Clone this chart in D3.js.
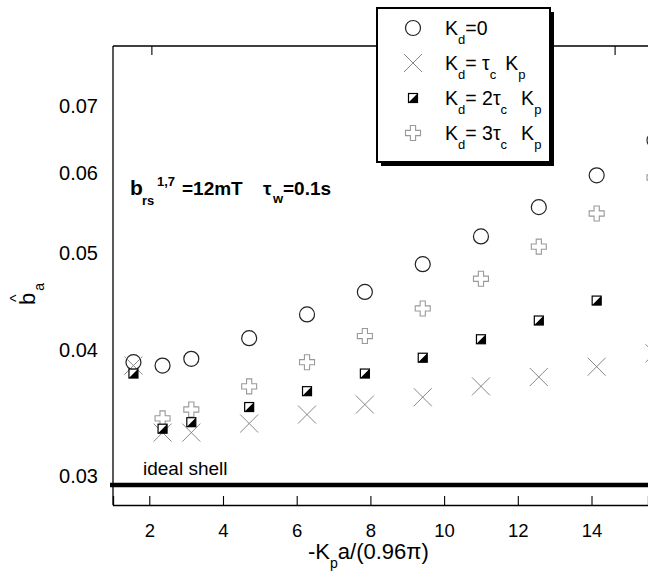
<!DOCTYPE html>
<html>
<head>
<meta charset="utf-8">
<script src="https://cdn.jsdelivr.net/npm/d3@7"></script>
<style>
  body { margin: 0; background: #fff; }
  text { font-family: "Liberation Sans", Arial, sans-serif; fill: #000; }
</style>
</head>
<body>
<div id="chart"></div>
<script>
// x = -Kp a/(0.96 pi)
const xVals = [1.57, 2.36, 3.14, 4.71, 6.28, 7.85, 9.42, 11.0, 12.57, 14.14, 15.71];
// b_a for each Kd setting
const kd0 = [0.0389, 0.0386, 0.0392, 0.0411, 0.0434, 0.0457, 0.0487, 0.0519, 0.0555, 0.0597, 0.0647];
const kd1 = [0.0386, 0.0331, 0.0331, 0.0338, 0.0345, 0.0353, 0.0359, 0.0368, 0.0376, 0.0385, 0.0397];
const kd2 = [0.0379, 0.0334, 0.0339, 0.0351, 0.0364, 0.0379, 0.0393, 0.0410, 0.0428, 0.0448, 0.0469];
const kd3 = [null, 0.0342, 0.0349, 0.0368, 0.0389, 0.0413, 0.0440, 0.0471, 0.0507, 0.0547, 0.0594];
const idealShell = 0.02936;
const xTicks = [2, 4, 6, 8, 10, 12, 14];
const xTopTicks = [2.07, 14.64];
const yTicks = [0.03, 0.04, 0.05, 0.06, 0.07];

const W = 648, H = 588;
const svg = d3.select("#chart").append("svg")
  .attr("width", W).attr("height", H);

const x = d3.scaleLinear().domain([1.015, 15.533]).range([113, 648]);
const y = d3.scaleLog().domain([0.02804, 0.0803]).range([505, 46]);

// frame
svg.append("line").attr("x1", 113).attr("x2", 113).attr("y1", 46).attr("y2", 505)
  .attr("stroke", "#000").attr("stroke-width", 1.3);
svg.append("line").attr("x1", 113).attr("x2", W).attr("y1", 46).attr("y2", 46)
  .attr("stroke", "#000").attr("stroke-width", 1.3);

// bottom axis
const xAxis = d3.axisBottom(x).tickValues(xTicks).tickSize(-9).tickFormat(d3.format("d"));
const gx = svg.append("g").attr("transform", "translate(0,505)").call(xAxis);
gx.select(".domain").attr("stroke-width", 1.3);
gx.selectAll(".tick line").attr("stroke-width", 1.1);
gx.selectAll(".tick text").attr("font-size", 18.5).attr("dy", 0).attr("y", 32)
  .style("font-family", "Liberation Sans, Arial, sans-serif");

// top ticks
svg.selectAll(".toptick").data(xTopTicks).enter().append("line")
  .attr("x1", d => x(d)).attr("x2", d => x(d)).attr("y1", 46).attr("y2", 55)
  .attr("stroke", "#000").attr("stroke-width", 1.1);

// y tick labels (no tick marks)
svg.selectAll(".ylab").data(yTicks).enter().append("text")
  .attr("x", 98).attr("y", d => y(d) + 7)
  .attr("text-anchor", "end").attr("font-size", 20)
  .text(d => d3.format(".2f")(d));

// ideal shell
svg.append("line").attr("x1", 110).attr("x2", W)
  .attr("y1", y(idealShell)).attr("y2", y(idealShell))
  .attr("stroke", "#000").attr("stroke-width", 4.5);
svg.append("text").attr("x", 143).attr("y", 475).attr("font-size", 19).text("ideal shell");

// markers
const pts = (arr) => xVals.map((v, i) => ({ x: v, y: arr[i] })).filter(d => d.y != null);

const plusPath = (a, w) => `M${-w},${-a}H${w}V${-w}H${a}V${w}H${w}V${a}H${-w}V${w}H${-a}V${-w}H${-w}Z`;

function drawCircle(g, cx, cy) {
  g.append("circle").attr("cx", cx).attr("cy", cy).attr("r", 7.5)
    .attr("fill", "none").attr("stroke", "#222").attr("stroke-width", 1.2);
}
function drawPlus(g, cx, cy) {
  g.append("path").attr("d", plusPath(7.5, 2.6))
    .attr("transform", `translate(${cx},${cy})`)
    .attr("fill", "#fff").attr("stroke", "#999").attr("stroke-width", 1.1);
}
function drawCross(g, cx, cy) {
  g.append("path").attr("d", "M-9,-9L9,9M-9,9L9,-9")
    .attr("transform", `translate(${cx},${cy})`)
    .attr("fill", "none").attr("stroke", "#888").attr("stroke-width", 1);
}
function drawHalf(g, cx, cy) {
  const s = 4.5;
  const m = g.append("g").attr("transform", `translate(${cx},${cy})`);
  m.append("rect").attr("x", -s).attr("y", -s).attr("width", 2 * s).attr("height", 2 * s)
    .attr("fill", "#fff").attr("stroke", "#000").attr("stroke-width", 1.2);
  m.append("path").attr("d", `M${-s},${s}L${s},${-s}L${s},${s}Z`).attr("fill", "#000");
}

const gm = svg.append("g");
pts(kd0).forEach(d => drawCircle(gm, x(d.x), y(d.y)));
pts(kd3).forEach(d => drawPlus(gm, x(d.x), y(d.y)));
pts(kd1).forEach(d => drawCross(gm, x(d.x), y(d.y)));
pts(kd2).forEach(d => drawHalf(gm, x(d.x), y(d.y)));

// annotation
const ann = svg.append("g").attr("font-weight", "bold");
ann.append("text").attr("x", 130).attr("y", 195).attr("font-size", 21).attr("font-weight", "bold").text("b");
ann.append("text").attr("x", 142).attr("y", 205).attr("font-size", 13).attr("font-weight", "bold").text("rs");
ann.append("text").attr("x", 157).attr("y", 186).attr("font-size", 13).attr("font-weight", "bold").text("1,7");
ann.append("text").attr("x", 182).attr("y", 195).attr("font-size", 19).attr("font-weight", "bold").text("=12mT");
ann.append("text").attr("x", 263).attr("y", 195).attr("font-size", 19).attr("font-weight", "bold").text("τ");
ann.append("text").attr("x", 273).attr("y", 203).attr("font-size", 13).attr("font-weight", "bold").text("w");
ann.append("text").attr("x", 283).attr("y", 195).attr("font-size", 19).attr("font-weight", "bold").text("=0.1s");

// axis titles
const xt = svg.append("text").attr("x", 308).attr("y", 559).attr("font-size", 22);
xt.append("tspan").text("-K");
xt.append("tspan").attr("font-size", 14).attr("dy", 9).text("p");
xt.append("tspan").attr("dy", -9).text("a/(0.96π)");

const yt = svg.append("g").attr("transform", "translate(35,305) rotate(-90)");
const ytx = yt.append("text").attr("x", 0).attr("y", 0).attr("font-size", 22);
ytx.append("tspan").text("b");
ytx.append("tspan").attr("font-size", 14).attr("dy", 9).attr("dx", 2).text("a");
yt.append("text").attr("x", 3).attr("y", -13).attr("font-size", 16).text("^");

// legend
const lx = 377, ly = 8, lw = 173, lh = 154;
svg.append("rect").attr("x", lx + 4).attr("y", ly + 4).attr("width", lw).attr("height", lh).attr("fill", "#000");
svg.append("rect").attr("x", lx).attr("y", ly).attr("width", lw).attr("height", lh)
  .attr("fill", "#fff").attr("stroke", "#000").attr("stroke-width", 2);

const legendRows = [
  { draw: drawCircle, parts: [["K", 0], ["d", 1], ["=0", 0]] },
  { draw: drawCross, parts: [["K", 0], ["d", 1], ["= τ", 0], ["c", 1], ["K", 0, 9], ["p", 1]] },
  { draw: drawHalf, parts: [["K", 0], ["d", 1], ["= 2τ", 0], ["c", 1], ["K", 0, 14], ["p", 1]] },
  { draw: drawPlus, parts: [["K", 0], ["d", 1], ["= 3τ", 0], ["c", 1], ["K", 0, 14], ["p", 1]] }
];
legendRows.forEach((r, i) => {
  const cy = 28 + i * 35;
  r.draw(svg, 413, cy);
  const t = svg.append("text").attr("x", 445).attr("y", cy + 7).attr("font-size", 19.5);
  let sub = 0;
  r.parts.forEach(p => {
    const ts = t.append("tspan").text(p[0]);
    if (p[2]) ts.attr("dx", p[2]);
    if (p[1] && !sub) { ts.attr("dy", 9).attr("font-size", 13); sub = 1; }
    else if (p[1]) { ts.attr("font-size", 13); }
    else if (sub) { ts.attr("dy", -9); sub = 0; }
  });
});
</script>
</body>
</html>
